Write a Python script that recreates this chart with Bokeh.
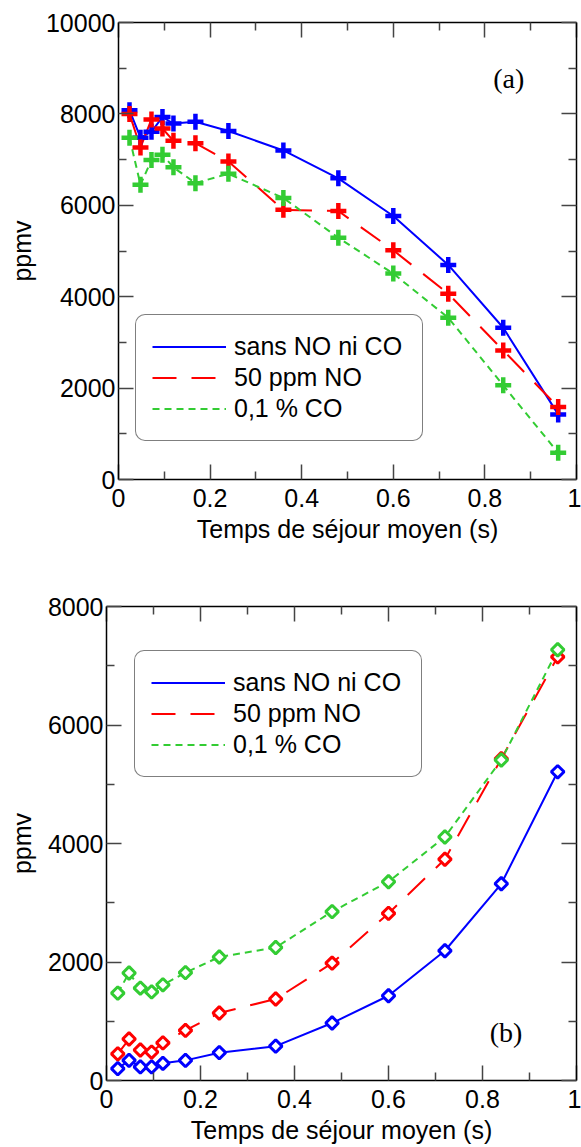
import numpy as np
from bokeh.plotting import figure
from bokeh.models import (Range1d, FixedTicker, LinearAxis, Legend, LegendItem, Label,
                          CustomJSTickFormatter, CustomLabelingPolicy)
from bokeh.layouts import column, row
from bokeh.embed import file_html
from bokeh.resources import INLINE

# ---------------- data ----------------
time_s = [0.024, 0.048, 0.072, 0.096, 0.12, 0.168, 0.24, 0.36, 0.48, 0.6, 0.72, 0.84, 0.96]

a_sans = [8080, 7480, 7610, 7930, 7790, 7830, 7625, 7200, 6590, 5765, 4695, 3320, 1425]
a_no = [8000, 7265, 7880, 7680, 7410, 7360, 6960, 5900, 5875, 5015, 4065, 2825, 1585]
a_co = [7480, 6450, 6990, 7105, 6830, 6485, 6690, 6160, 5290, 4505, 3540, 2060, 585]

b_sans = [200, 340, 230, 230, 290, 340, 470, 580, 970, 1430, 2190, 3320, 5210]
b_no = [450, 700, 515, 480, 635, 845, 1140, 1375, 1980, 2820, 3735, 5430, 7150]
b_co = [1475, 1815, 1560, 1495, 1615, 1820, 2085, 2245, 2850, 3355, 4110, 5410, 7270]

series_labels = ["sans NO ni CO", "50 ppm NO", "0,1 % CO"]
x_ticks = [0, 0.2, 0.4, 0.6, 0.8, 1.0]
x_minor = [0.1, 0.3, 0.5, 0.7, 0.9]
a_yticks = [0, 2000, 4000, 6000, 8000, 10000]
a_yminor = [1000, 3000, 5000, 7000, 9000]
b_yticks = [0, 2000, 4000, 6000, 8000]
b_yminor = [1000, 3000, 5000, 7000]
x_title = "Temps de séjour moyen (s)"
y_title = "ppmv"

# ---------------- styles ----------------
FONT = "Liberation Sans"
FS = "25px"
COLORS = ["#0000ff", "#ff0000", "#33cc33"]
DASHES = ["solid", "24 15", "7 5"]

NO_LABELS = "for (const i of indices) { indices.unset(i) }\nreturn indices"


def style_axis(ax, labels=True):
    ax.axis_line_color = "black"
    ax.axis_line_width = 1.5
    ax.major_tick_in = 15
    ax.major_tick_out = 0
    ax.minor_tick_in = 8
    ax.minor_tick_out = 0
    ax.major_tick_line_color = "#444444"
    ax.minor_tick_line_color = "#444444"
    ax.major_tick_line_width = 1.5
    ax.minor_tick_line_width = 1.5
    ax.major_label_text_font = FONT
    ax.major_label_text_color = "black"
    ax.axis_label_text_font = FONT
    ax.axis_label_text_font_style = "normal"
    ax.axis_label_text_color = "black"
    ax.axis_label_text_font_size = FS
    if labels:
        ax.major_label_text_font_size = FS
    else:
        ax.major_label_text_font_size = "0px"
        ax.major_label_standoff = 0
        ax.major_label_policy = CustomLabelingPolicy(code=NO_LABELS)


def make_fig(h, ymax, yticks, yminor, mbl, mbt, mbb, ylab_standoff):
    p = figure(width=581, height=h, x_range=Range1d(0, 1), y_range=Range1d(0, ymax),
               output_backend="svg", toolbar_location=None,
               min_border_left=mbl, min_border_right=5, min_border_top=mbt,
               min_border_bottom=mbb)
    p.xgrid.visible = False
    p.ygrid.visible = False
    p.outline_line_color = None
    fmt = CustomJSTickFormatter(code="return String(Math.round(tick*10)/10)")
    xa = p.xaxis[0]
    xa.ticker = FixedTicker(ticks=x_ticks, minor_ticks=x_minor)
    xa.formatter = fmt
    style_axis(xa)
    xa.major_label_standoff = 9
    xa.axis_label = x_title
    xa.axis_label_standoff = 5
    ya = p.yaxis[0]
    ya.ticker = FixedTicker(ticks=yticks, minor_ticks=yminor)
    style_axis(ya)
    ya.major_label_standoff = 3
    ya.axis_label = y_title
    ya.axis_label_standoff = ylab_standoff

    top = LinearAxis(ticker=FixedTicker(ticks=x_ticks, minor_ticks=x_minor))
    style_axis(top, labels=False)
    p.add_layout(top, "above")
    right = LinearAxis(ticker=FixedTicker(ticks=yticks, minor_ticks=yminor))
    style_axis(right, labels=False)
    p.add_layout(right, "right")
    return p


def add_legend(p, renderers, loc):
    items = [LegendItem(label=lab, renderers=[r]) for lab, r in zip(series_labels, renderers)]
    lg = Legend(items=items, location=loc, orientation="vertical",
                border_line_color="black", border_line_width=1.2,
                background_fill_color="white", background_fill_alpha=1.0,
                padding=16, margin=0, spacing=0,
                glyph_width=74, glyph_height=31, label_height=31, label_width=172,
                label_standoff=8, label_text_font=FONT, label_text_font_size=FS,
                label_text_color="black")
    if "border_radius" in Legend.properties():
        lg.border_radius = 10
    p.add_layout(lg)


# ---------------- plot (a) ----------------
pa = make_fig(560, 10000, a_yticks, a_yminor, 118, 22, 81, 7)
rend_a = []
for ys, c, d in zip([a_sans, a_no, a_co], COLORS, DASHES):
    r = pa.line(time_s, ys, line_color=c, line_width=2, line_dash=d)
    rend_a.append(r)
for ys, c in zip([a_sans, a_no, a_co], COLORS):
    pa.scatter(time_s, ys, marker="cross", size=16, line_width=4.5, line_color=c)
add_legend(pa, rend_a, (17, 38))
pa.add_layout(Label(x=0.852, y=8770, text="(a)", text_font="Liberation Serif",
                    text_font_size="28px", text_align="center", text_baseline="middle",
                    text_color="black"))

# ---------------- plot (b) ----------------
pb = make_fig(586, 8000, b_yticks, b_yminor, 106, 46, 66, 9)
rend_b = []
for ys, c, d in zip([b_sans, b_no, b_co], COLORS, DASHES):
    r = pb.line(time_s, ys, line_color=c, line_width=2, line_dash=d)
    rend_b.append(r)
for ys, c in zip([b_sans, b_no, b_co], COLORS):
    pb.scatter(time_s, ys, marker="square", angle=np.pi / 4, size=9, line_width=3,
               line_color=c, fill_color="white")
add_legend(pb, rend_b, (28, 303))
pb.add_layout(Label(x=0.85, y=808, text="(b)", text_font="Liberation Serif",
                    text_font_size="28px", text_align="center", text_baseline="middle",
                    text_color="black"))

layout = column(row(pa), row(pb), spacing=0)
open("out.html", "w").write(file_html(layout, INLINE))
